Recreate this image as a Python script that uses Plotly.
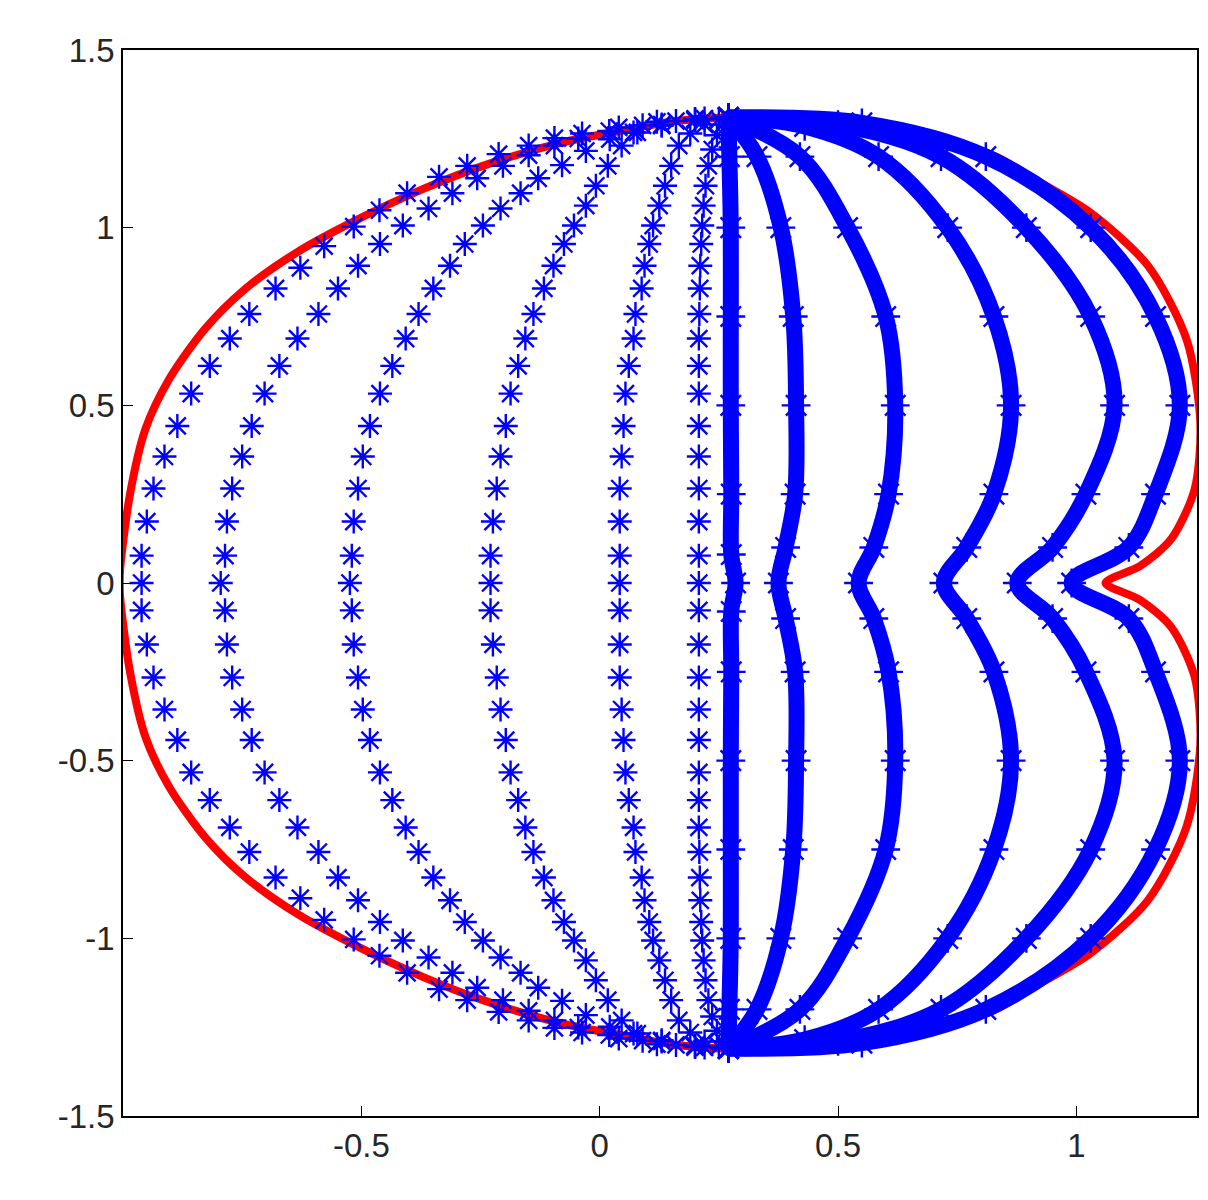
import plotly.graph_objects as go

# upper halves (the figure is mirror-symmetric about y=0)
red_x = [-1.007, -1.006, -0.986, -0.953, -0.903, -0.828, -0.745, -0.636, -0.52, -0.37, -0.245, -0.078,
         0.047, 0.16, 0.27, 0.40, 0.503, 0.665, 0.826, 0.923, 1.029, 1.15, 1.231, 1.26, 1.248, 1.199, 1.134, 1.061]
red_y = [0.0, 0.04, 0.245, 0.433, 0.574, 0.715, 0.826, 0.93, 1.015, 1.109, 1.174, 1.24,
         1.273, 1.30, 1.31, 1.305, 1.297, 1.268, 1.203, 1.128, 1.043, 0.893, 0.686, 0.452, 0.264, 0.124, 0.048, 0.0]

# sparse star curves (left family)
a_x = [-0.961, -0.961, -0.95, -0.936, -0.913, -0.886, -0.857, -0.818, -0.776, -0.735, -0.68, -0.628,
       -0.578, -0.516, -0.462, -0.404, -0.337, -0.278, -0.212, -0.149, -0.095, -0.037, 0.04, 0.12, 0.2, 0.27]
a_y = [0.0, 0.077, 0.173, 0.266, 0.356, 0.442, 0.533, 0.611, 0.688, 0.757, 0.829, 0.887,
       0.948, 1.003, 1.049, 1.097, 1.143, 1.174, 1.207, 1.231, 1.252, 1.265, 1.282, 1.298, 1.306, 1.31]
b_x = [-0.795, -0.786, -0.782, -0.771, -0.75, -0.73, -0.703, -0.672, -0.634, -0.59, -0.549, -0.507,
       -0.461, -0.413, -0.359, -0.309, -0.257, -0.203, -0.149, -0.095, -0.045, 0.02, 0.09, 0.16, 0.22, 0.27]
b_y = [0.0, 0.077, 0.173, 0.266, 0.356, 0.442, 0.533, 0.611, 0.688, 0.757, 0.829, 0.893,
       0.954, 1.006, 1.054, 1.097, 1.139, 1.174, 1.204, 1.231, 1.251, 1.272, 1.288, 1.30, 1.307, 1.31]
c_x = [-0.524, -0.52, -0.516, -0.507, -0.497, -0.482, -0.461, -0.435, -0.407, -0.38, -0.349, -0.314,
       -0.283, -0.245, -0.208, -0.166, -0.129, -0.079, -0.029, 0.021, 0.071, 0.13, 0.2, 0.27]
c_y = [0.0, 0.077, 0.173, 0.266, 0.356, 0.442, 0.533, 0.611, 0.688, 0.757, 0.829, 0.893,
       0.954, 1.006, 1.054, 1.097, 1.139, 1.176, 1.216, 1.249, 1.268, 1.287, 1.302, 1.31]
d_x = [-0.229, -0.229, -0.224, -0.216, -0.208, -0.197, -0.187, -0.171, -0.156, -0.139, -0.117, -0.097,
       -0.075, -0.054, -0.029, -0.008, 0.017, 0.046, 0.079, 0.13, 0.2, 0.27]
d_y = [0.0, 0.077, 0.173, 0.266, 0.356, 0.442, 0.533, 0.611, 0.688, 0.757, 0.829, 0.893,
       0.954, 1.006, 1.062, 1.118, 1.174, 1.231, 1.268, 1.29, 1.305, 1.31]
e_x = [0.042, 0.042, 0.042, 0.042, 0.046, 0.05, 0.054, 0.061, 0.071, 0.075, 0.088, 0.094,
       0.104, 0.112, 0.125, 0.137, 0.15, 0.166, 0.19, 0.22, 0.25, 0.27]
e_y = [0.0, 0.077, 0.173, 0.266, 0.356, 0.442, 0.533, 0.611, 0.688, 0.757, 0.829, 0.893,
       0.954, 1.006, 1.062, 1.118, 1.174, 1.231, 1.265, 1.29, 1.305, 1.31]
f_x = [0.208, 0.208, 0.208, 0.208, 0.208, 0.208, 0.208, 0.208, 0.208, 0.209, 0.21, 0.211,
       0.213, 0.215, 0.218, 0.222, 0.228, 0.236, 0.246, 0.258, 0.27]
f_y = [0.0, 0.077, 0.173, 0.266, 0.356, 0.442, 0.533, 0.611, 0.688, 0.757, 0.829, 0.893,
       0.954, 1.006, 1.062, 1.118, 1.174, 1.22, 1.26, 1.29, 1.31]

# dense star curves (right family)
g_x = [0.285, 0.276, 0.276, 0.275, 0.275, 0.275, 0.272, 0.27]
g_y = [0.0, 0.08, 0.25, 0.5, 0.75, 1.0, 1.2, 1.31]
h_x = [0.375, 0.39, 0.41, 0.412, 0.406, 0.38, 0.33, 0.27]
h_y = [0.0, 0.1, 0.25, 0.5, 0.75, 1.0, 1.2, 1.31]
i_x = [0.543, 0.575, 0.606, 0.62, 0.6, 0.52, 0.42, 0.27]
i_y = [0.0, 0.1, 0.25, 0.5, 0.75, 1.0, 1.2, 1.31]
j_x = [0.722, 0.77, 0.827, 0.863, 0.827, 0.73, 0.585, 0.43, 0.27]
j_y = [0.0, 0.1, 0.25, 0.5, 0.75, 1.0, 1.2, 1.285, 1.31]
k_x = [0.876, 0.95, 1.02, 1.08, 1.03, 0.895, 0.716, 0.5, 0.27]
k_y = [0.0, 0.1, 0.25, 0.5, 0.75, 1.0, 1.2, 1.29, 1.31]
l_x = [0.99, 1.11, 1.166, 1.217, 1.166, 1.03, 0.81, 0.55, 0.27]
l_y = [0.0, 0.1, 0.25, 0.5, 0.75, 1.0, 1.2, 1.295, 1.31]

x_ticks = [-0.5, 0, 0.5, 1]
y_ticks = [-1.5, -1, -0.5, 0, 0.5, 1, 1.5]


def full(xs, ys):
    # lower half is the mirror image of the upper half
    return xs[::-1] + xs[1:], [-v for v in ys[::-1]] + ys[1:]


fig = go.Figure()
rx, ry = full(red_x, red_y)
fig.add_trace(go.Scatter(x=rx, y=ry, mode="lines",
                         line=dict(color="red", width=8, shape="spline", smoothing=0.8)))

star = dict(symbol="asterisk-open", color="blue", size=20, line=dict(color="blue", width=2.4))
for xs, ys in [(a_x, a_y), (b_x, b_y), (c_x, c_y), (d_x, d_y), (e_x, e_y), (f_x, f_y)]:
    cx, cy = full(xs, ys)
    fig.add_trace(go.Scatter(x=cx, y=cy, mode="markers", marker=star))

for xs, ys in [(g_x, g_y), (h_x, h_y), (i_x, i_y), (j_x, j_y), (k_x, k_y), (l_x, l_y)]:
    cx, cy = full(xs, ys)
    fig.add_trace(go.Scatter(x=cx, y=cy, mode="lines+markers",
                             line=dict(color="blue", width=16, shape="spline"),
                             marker=dict(symbol="asterisk-open", size=24, line=dict(color="blue", width=2.4))))

axis = dict(showgrid=False, zeroline=False, showline=True, linecolor="black", linewidth=1.5, mirror=True,
            ticks="inside", ticklen=10, tickcolor="black", tickfont=dict(size=33, color="#262626"))
fig.update_xaxes(range=[-1.0, 1.253], tickvals=x_ticks, ticktext=["-0.5", "0", "0.5", "1"], **axis)
fig.update_yaxes(range=[-1.5, 1.5], tickvals=y_ticks, ticktext=["-1.5", "-1", "-0.5", "0", "0.5", "1", "1.5"], **axis)
fig.update_layout(width=1208, height=1200, showlegend=False, plot_bgcolor="white", paper_bgcolor="white",
                  font=dict(family="Liberation Sans, Arial, sans-serif"),
                  margin=dict(l=115, r=19, t=42, b=92))
fig.write_html("out.html")
